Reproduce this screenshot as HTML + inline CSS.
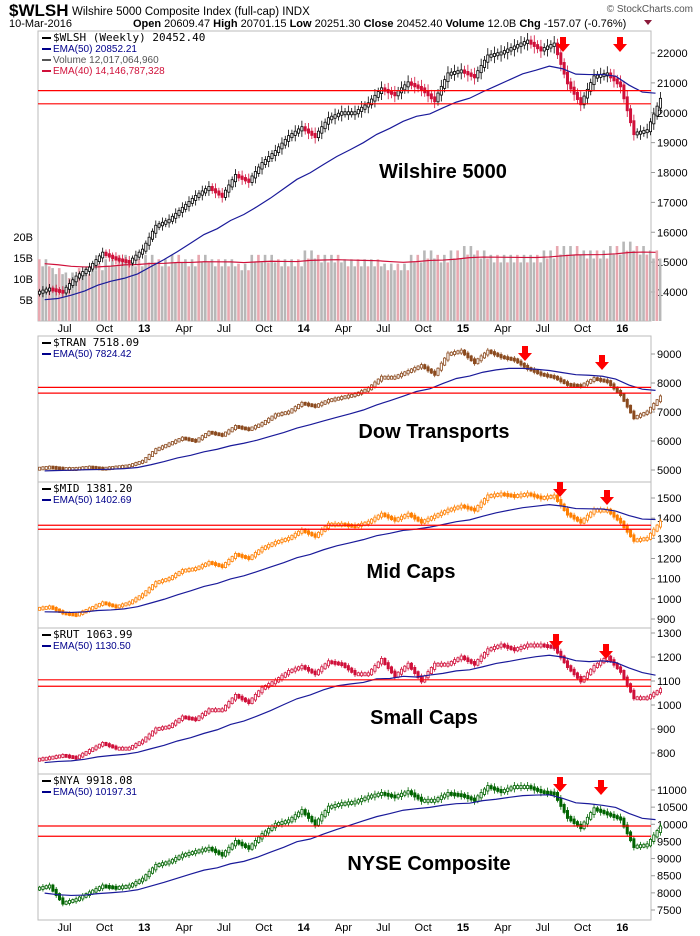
<!DOCTYPE html>
<html><head><meta charset="utf-8">
<style>
body{margin:0;background:#fff;width:700px;height:936px;overflow:hidden;font-family:"Liberation Sans",sans-serif;}
svg{display:block}
</style></head>
<body>
<svg id="c" width="700" height="936">
<text x="9" y="16" font-size="17" font-weight="bold">$WLSH</text>
<text x="72" y="15" font-size="11.5">Wilshire 5000 Composite Index (full-cap)  INDX</text>
<text x="9" y="27" font-size="11">10-Mar-2016</text>
<text x="133" y="27" font-size="11"><tspan font-weight="bold">Open</tspan> 20609.47 <tspan font-weight="bold">High</tspan> 20701.15 <tspan font-weight="bold">Low</tspan> 20251.30 <tspan font-weight="bold">Close</tspan> 20452.40 <tspan font-weight="bold">Volume</tspan> 12.0B <tspan font-weight="bold">Chg</tspan> -157.07 (-0.76%)</text>
<polygon points="644,20 652,20 648,25" fill="#8b1a3a"/>
<g id="g"></g>
</svg>
<script>
// Month index 0 = May 2012 ... 46 = Mar 2016
const wlsh=[14100,14000,14500,14800,15300,15100,15000,15400,16200,16400,16800,17200,17500,17200,17900,17700,18300,18700,19200,19500,19200,19800,20000,20000,20300,20800,20600,21000,20800,20400,21300,21400,21200,21900,22000,22200,22400,22100,22300,21000,20300,21200,21300,20900,19300,19400,20450];
const vol=[14,12,11,12,13,14,15,14,15,14,15,14,15,14,14,13,15,15,14,14,16,15,15,14,14,14,13,13,15,16,15,16,17,16,15,15,15,15,16,17,17,16,16,17,18,17,16];
const tran=[5100,5050,5050,5100,5050,5100,5150,5300,5700,5900,6100,6000,6300,6200,6500,6400,6600,6900,7000,7300,7200,7400,7500,7600,7800,8200,8200,8400,8600,8300,9000,9100,8700,9100,8900,8800,8500,8300,8200,7950,7900,8150,8050,7600,6800,7000,7518];
const mid=[960,930,920,950,980,960,980,1020,1080,1100,1140,1150,1180,1160,1220,1200,1250,1280,1300,1340,1310,1370,1370,1360,1380,1420,1390,1420,1380,1410,1440,1460,1440,1510,1520,1510,1520,1500,1510,1420,1380,1440,1440,1380,1290,1300,1381];
const rut=[780,790,780,810,840,820,820,850,900,910,950,940,980,980,1040,1010,1070,1100,1140,1160,1130,1180,1170,1130,1130,1190,1120,1170,1100,1170,1170,1200,1170,1230,1250,1230,1250,1250,1240,1160,1100,1160,1200,1140,1030,1030,1064];
const nya=[8200,7700,7800,8000,8200,8150,8200,8400,8800,8900,9100,9200,9300,9100,9500,9300,9700,10000,10100,10400,10000,10500,10600,10650,10800,10900,10800,10950,10700,10700,10900,10850,10700,11100,10950,11100,11100,10950,10900,10200,9900,10450,10300,10150,9350,9400,9918];
const xLabels=["Jul","Oct","13","Apr","Jul","Oct","14","Apr","Jul","Oct","15","Apr","Jul","Oct","16"];
const xLabelMonths=[2,5,8,11,14,17,20,23,26,29,32,35,38,41,44];
const wlshTicks=[14000,15000,16000,17000,18000,19000,20000,21000,22000];
const volTicks=[5,10,15,20];
const tranTicks=[5000,6000,7000,8000,9000];
const midTicks=[900,1000,1100,1200,1300,1400,1500];
const rutTicks=[800,900,1000,1100,1200,1300];
const nyaTicks=[7500,8000,8500,9000,9500,10000,10500,11000];

const NS="http://www.w3.org/2000/svg";
const G=document.getElementById('g');
const L=38,R=651,MW=13.28;
function el(t,a,p){const e=document.createElementNS(NS,t);for(const k in a)e.setAttribute(k,a[k]);(p||G).appendChild(e);return e;}
function xm(m){return L+(m+0.5)*MW;}
function ema(arr){const out=[];const k=2/13;let e=arr[0]*0.97;for(const v of arr){e=v*k+e*(1-k);out.push(e);}return out;}

const panels=[
 {name:'wilshire',data:wlsh,top:31,bot:321,v1:22000,y1:53,v2:14000,y2:292,ticks:wlshTicks,up:'#000',dn:'#d0103a',fill:'#d0103a',
  leg:[['$WLSH (Weekly) 20452.40','#000'],['EMA(50) 20852.21','#00008b'],['Volume 12,017,064,960','#555'],['EMA(40) 14,146,787,328','#d0103a']],
  title:'Wilshire 5000',tx:443,ty:178,red:[20740,20300],arrows:[[563,37],[620,37]]},
 {name:'dow-transports',data:tran,top:336,bot:482,v1:9000,y1:354,v2:5000,y2:470,ticks:tranTicks,up:'#8b4a1e',dn:'#8b4a1e',fill:'#8b4a1e',
  leg:[['$TRAN 7518.09','#000'],['EMA(50) 7824.42','#00008b']],title:'Dow Transports',tx:434,ty:438,red:[7850,7650],arrows:[[525,346],[602,355]]},
 {name:'mid-caps',data:mid,top:482,bot:628,v1:1500,y1:498,v2:900,y2:619,ticks:midTicks,up:'#ff7f00',dn:'#ff7f00',fill:'#ff7f00',
  leg:[['$MID 1381.20','#000'],['EMA(50) 1402.69','#00008b']],title:'Mid Caps',tx:411,ty:578,red:[1365,1345],arrows:[[560,482],[607,490]]},
 {name:'small-caps',data:rut,top:628,bot:774,v1:1200,y1:657,v2:800,y2:753,ticks:rutTicks,up:'#d0103a',dn:'#d0103a',fill:'#d0103a',
  leg:[['$RUT 1063.99','#000'],['EMA(50) 1130.50','#00008b']],title:'Small Caps',tx:424,ty:724,red:[1105,1078],arrows:[[556,634],[606,644]]},
 {name:'nyse-composite',data:nya,top:774,bot:920,v1:11000,y1:790,v2:7500,y2:910,ticks:nyaTicks,up:'#006400',dn:'#006400',fill:'#006400',
  leg:[['$NYA 9918.08','#000'],['EMA(50) 10197.31','#00008b']],title:'NYSE Composite',tx:429,ty:870,red:[9950,9650],arrows:[[560,777],[601,780]]}
];

panels.forEach((p,pi)=>{
  const y=v=>p.y1+(v-p.v1)*(p.y2-p.y1)/(p.v2-p.v1);
  const g=el('g',{});
  
  
  const fr=el('rect',{x:L,y:p.top,width:R-L,height:p.bot-p.top,fill:'#fff',stroke:'#bbb','stroke-width':1},g);
  
  
  p.ticks.forEach(t=>{
    const ty=y(t);
    const tk=el('line',{x1:R,x2:R+4,y1:ty,y2:ty,stroke:'#999'},g);
    
    
    const tl=el('text',{x:R+6,y:ty+4,'font-size':11,fill:'#000'},g);
    tl.textContent=t;
    
    
  });
  if(pi===0){
    const vy=b=>321-b*4.2;
    vol.forEach((v,m)=>{
      for(let w=0;w<4;w++){
        const bx=L+m*MW+w*3.32;
        const h=v*(w%2?0.93:1.05);
        const vb=el('rect',{x:bx,y:vy(h),width:2.6,height:321-vy(h),fill:(m+w)%3===0?'#e8a8b0':'#b8b8b8'},g);
        
        
      }
    });
    const ve=ema(vol);
    const vp=el('polyline',{points:ve.map((v,m)=>xm(m)+','+vy(v)).join(' '),fill:'none',stroke:'#d0103a','stroke-width':1.2},g);
    
    
    volTicks.forEach(t=>{
      const tl=el('text',{x:33,y:vy(t)+4,'font-size':11,'text-anchor':'end'},g);
      tl.textContent=t+'B';
      
      
    });
  }
  p.data.forEach((v,m)=>{
    const o=m>0?p.data[m-1]:v*0.99;
    const upC=v>=o;
    for(let w=0;w<4;w++){
      const so=o+(v-o)*w/4, sc=o+(v-o)*(w+1)/4;
      const x=L+m*MW+w*3.32+1.6;
      const sp=w%2?0.012:0.008;
      const hi=Math.max(so,sc)*(1+sp),lo=Math.min(so,sc)*(1-sp);
      const wk=el('line',{x1:x,x2:x,y1:y(hi),y2:y(lo),stroke:upC?p.up:p.dn,'stroke-width':0.8},g);
      
      
      const yt=y(Math.max(so,sc)),yb=y(Math.min(so,sc));
      const c=el('rect',{x:x-1.1,y:yt-1,width:2.2,height:Math.max(3,yb-yt+2),fill:upC?'#fff':p.fill,stroke:upC?p.up:p.dn,'stroke-width':0.8},g);
      
      
    }
  });
  const e=ema(p.data);
  const ep=el('polyline',{points:e.map((v,m)=>xm(m)+','+y(v)).join(' '),fill:'none',stroke:'#1a1a9a','stroke-width':1.2},g);
  
  
  p.red.forEach(r=>{
    const rl=el('line',{x1:L,x2:R,y1:y(r),y2:y(r),stroke:'#f00','stroke-width':1.2},g);
    
    
  });
  p.arrows.forEach(a=>{
    const ar=el('polygon',{points:`${a[0]-3},${a[1]} ${a[0]+3},${a[1]} ${a[0]+3},${a[1]+7} ${a[0]+7},${a[1]+7} ${a[0]},${a[1]+15} ${a[0]-7},${a[1]+7} ${a[0]-3},${a[1]+7}`,fill:'#f00'},g);
    
    
  });
  p.leg.forEach((lg,i)=>{
    const ly=p.top+10+i*11;
    const mk=el('rect',{x:42,y:ly-4,width:9,height:2,fill:lg[1]},g);
    
    
    const lt=el('text',{x:53,y:ly,'font-size':i===0?11:10,fill:lg[1],'font-family':i===0?'DejaVu Sans Mono, monospace':'Liberation Sans, sans-serif'},g);
    lt.textContent=lg[0];
    
    
  });
  const tt=el('text',{x:p.tx,y:p.ty,'font-size':20,'font-weight':'bold','text-anchor':'middle'},g);
  tt.textContent=p.title;
  
  
  if(pi===0||pi===4){
    const ly=pi===0?332:931;
    xLabels.forEach((t,i)=>{
      const xl=el('text',{x:L+xLabelMonths[i]*MW,y:ly,'font-size':11,'text-anchor':'middle','font-weight':/^\d/.test(t)?'bold':'normal'},g);
      xl.textContent=t;
      
      
    });
  }
});
const cr=el('text',{x:693,y:12,'font-size':10,fill:'#555','text-anchor':'end'});
cr.textContent='© StockCharts.com';


</script>
</body></html>
